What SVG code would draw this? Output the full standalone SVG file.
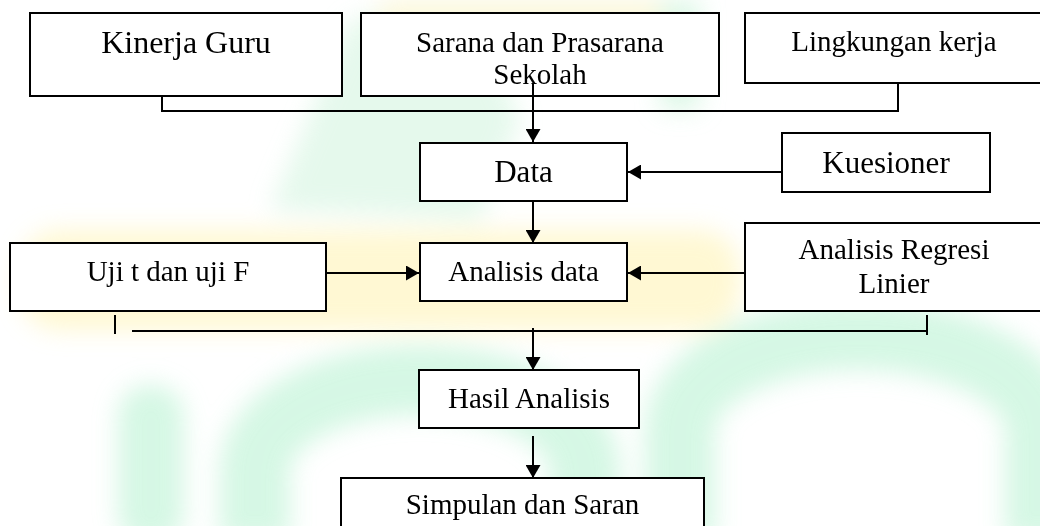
<svg xmlns="http://www.w3.org/2000/svg" width="1040" height="526" viewBox="0 0 1040 526">
<style>
.box{fill:#ffffff;stroke:#000000;stroke-width:2}
.ln{fill:none;stroke:#000000;stroke-width:2}
.t{font-family:"Liberation Serif","Times New Roman",serif;fill:#000000;text-anchor:middle;font-size:29px}
.wm{filter:url(#blur);opacity:0.75}
</style>
<defs>
<marker id="ah" viewBox="0 0 13 15" refX="13" refY="7.5" markerWidth="13" markerHeight="15" orient="auto" markerUnits="userSpaceOnUse">
<path d="M0,0 L13,7.5 L0,15 z" fill="#000000"/>
</marker>
<filter id="blur" x="-20%" y="-20%" width="140%" height="140%"><feGaussianBlur stdDeviation="12"/></filter>
</defs>
<rect x="0" y="0" width="1040" height="526" fill="#ffffff"/>
<g id="watermark" class="wm">
<rect x="20" y="230" width="720" height="100" rx="40" fill="#fff6c4"/>
<path d="M270,210 L350,20 L470,0 L520,120 L480,220 Z" fill="#d4f5e0" opacity="0.8"/>
<rect x="660" y="0" width="40" height="110" fill="#d2f5df"/>
<rect x="380" y="0" width="280" height="40" fill="#fbf6d0"/>
<rect x="118" y="385" width="66" height="160" rx="30" fill="#c8f5dc"/>
<path d="M255,540 L255,470 A165,90 0 0 1 585,470 L585,540" fill="none" stroke="#c8f5dc" stroke-width="70"/>
<path d="M680,540 L680,430 A180,95 0 0 1 1040,430 L1040,540" fill="none" stroke="#c8f5dc" stroke-width="70"/>
</g>
<g id="connectors">
<polyline class="ln" points="162,96 162,111 898,111 898,83"/>
<line class="ln" x1="533" y1="83" x2="533" y2="142" marker-end="url(#ah)"/>
<line class="ln" x1="782" y1="172" x2="628" y2="172" marker-end="url(#ah)"/>
<line class="ln" x1="533" y1="201" x2="533" y2="243" marker-end="url(#ah)"/>
<line class="ln" x1="326" y1="273" x2="419" y2="273" marker-end="url(#ah)"/>
<line class="ln" x1="745" y1="273" x2="628" y2="273" marker-end="url(#ah)"/>
<line class="ln" x1="115" y1="315" x2="115" y2="334"/>
<line class="ln" x1="132" y1="331" x2="927" y2="331"/>
<line class="ln" x1="927" y1="315" x2="927" y2="335"/>
<line class="ln" x1="533" y1="328" x2="533" y2="370" marker-end="url(#ah)"/>
<line class="ln" x1="533" y1="436" x2="533" y2="478" marker-end="url(#ah)"/>
</g>
<g id="kinerja">
<rect class="box" x="30" y="13" width="312" height="83"/>
<text class="t" x="186" y="53" style="font-size:32px">Kinerja Guru</text>
</g>
<g id="sarana">
<rect class="box" x="361" y="13" width="358" height="83"/>
<text class="t" x="540" y="52">Sarana dan Prasarana</text>
<text class="t" x="540" y="84">Sekolah</text>
</g>
<g id="lingkungan">
<rect class="box" x="745" y="13" width="300" height="70"/>
<text class="t" x="894" y="51">Lingkungan kerja</text>
</g>
<g id="sarana-arrow-overlay">
<line class="ln" x1="533" y1="83" x2="533" y2="96"/>
</g>
<g id="data">
<rect class="box" x="420" y="143" width="207" height="58"/>
<text class="t" x="523.5" y="182" style="font-size:31px">Data</text>
</g>
<g id="kuesioner">
<rect class="box" x="782" y="133" width="208" height="59"/>
<text class="t" x="886" y="172.5" style="font-size:31px">Kuesioner</text>
</g>
<g id="uji">
<rect class="box" x="10" y="243" width="316" height="68"/>
<text class="t" x="168" y="281">Uji t dan uji F</text>
</g>
<g id="analisis">
<rect class="box" x="420" y="243" width="207" height="58"/>
<text class="t" x="523.5" y="281">Analisis data</text>
</g>
<g id="regresi">
<rect class="box" x="745" y="223" width="300" height="88"/>
<text class="t" x="894" y="259">Analisis Regresi</text>
<text class="t" x="894" y="292.5">Linier</text>
</g>
<g id="hasil">
<rect class="box" x="419" y="370" width="220" height="58"/>
<text class="t" x="529" y="407.5">Hasil Analisis</text>
</g>
<g id="simpulan">
<rect class="box" x="341" y="478" width="363" height="70"/>
<text class="t" x="522.5" y="514">Simpulan dan Saran</text>
</g>
</svg>
